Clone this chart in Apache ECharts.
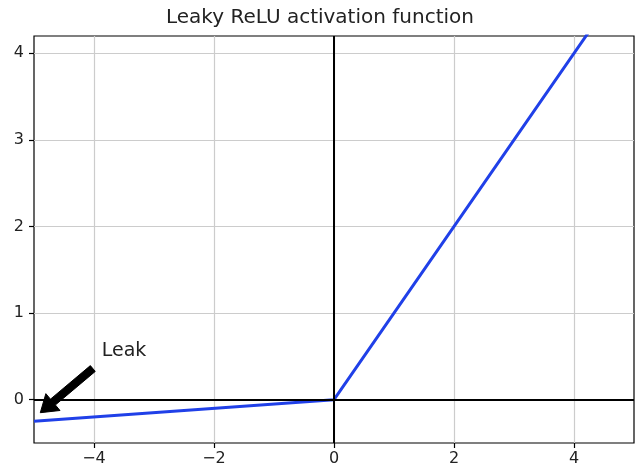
<!DOCTYPE html>
<html><head><meta charset="utf-8">
<script src="https://cdn.jsdelivr.net/npm/echarts@6/dist/echarts.min.js"></script>
<style>html,body{margin:0;padding:0;background:#fff}#c{width:640px;height:474px}</style>
</head><body><div id="c"></div>
<script>
// ---- data ----
const zValues = [-5, 0, 5];
const leakyValues = [-0.25, 0, 5];
const xTicks = [-4, -2, 0, 2, 4];
const yTicks = [0, 1, 2, 3, 4];
const xRange = [-5, 5];
const yRange = [-0.5, 4.2];
const titleText = 'Leaky ReLU activation function';
const annotText = 'Leak';
const annotTextAt = [-3.5, 0.5];
const arrowFrom = [-4.02, 0.36];
const arrowTo = [-4.895, -0.15];

const FONT = 'DejaVu Sans';
const fmt = v => String(v).replace('-', '\u2212');

const chart = echarts.init(document.getElementById('c'), null, {renderer: 'canvas'});

function axisCommon(ticks) {
  return {
    type: 'value',
    splitNumber: 5,
    axisLine: {show: false, onZero: false},
    axisTick: {show: true, customValues: ticks, length: 5, inside: false, lineStyle: {color: '#000', width: 1.2}},
    axisLabel: {customValues: ticks, formatter: fmt, color: '#222', fontSize: 16, fontFamily: FONT},
    splitLine: {show: true, lineStyle: {color: '#cccccc', width: 1.2}}
  };
}

const xAxis = axisCommon(xTicks);
xAxis.min = xRange[0]; xAxis.max = xRange[1];
xAxis.axisLabel.margin = 8;
const yAxis = axisCommon(yTicks);
yAxis.min = yRange[0]; yAxis.max = yRange[1];
yAxis.axisLabel.margin = 10;

chart.setOption({
  animation: false,
  backgroundColor: '#fff',
  title: {
    text: titleText,
    left: 'center',
    top: 8,
    padding: [0, 0, 0, 27],
    textStyle: {fontFamily: FONT, fontSize: 20, fontWeight: 'normal', color: '#222'}
  },
  grid: {left: 34, right: 6, top: 36, bottom: 31, containLabel: false, show: true, borderColor: '#000', borderWidth: 1.2, backgroundColor: 'transparent'},
  xAxis: xAxis,
  yAxis: yAxis,
  series: [
    {
      type: 'line',
      data: zValues.map((z, i) => [z, leakyValues[i]]),
      showSymbol: false,
      clip: true,
      lineStyle: {color: '#2040e8', width: 3},
      z: 2
    },
    {
      type: 'line',
      data: [],
      z: 3,
      markLine: {
        silent: true,
        symbol: ['none', 'none'],
        label: {show: false},
        lineStyle: {color: '#000', width: 2, type: 'solid'},
        emphasis: {disabled: true},
        data: [{yAxis: 0}, {xAxis: 0}]
      }
    }
  ]
});

// annotation: text + arrow positioned via the grid's data->pixel mapping
const p0 = chart.convertToPixel({gridIndex: 0}, arrowFrom);
const p1 = chart.convertToPixel({gridIndex: 0}, arrowTo);
const tp = chart.convertToPixel({gridIndex: 0}, annotTextAt);
const dx = p1[0] - p0[0], dy = p1[1] - p0[1];
const L = Math.hypot(dx, dy);
const ux = dx / L, uy = dy / L, nx = -uy, ny = ux;
const sw = 3.8, hw = 11, hl = 16.5;
const bx = p1[0] - ux * hl, by = p1[1] - uy * hl;
const pts = [
  [p0[0] + nx * sw, p0[1] + ny * sw],
  [bx + nx * sw, by + ny * sw],
  [bx + nx * hw, by + ny * hw],
  [p1[0], p1[1]],
  [bx - nx * hw, by - ny * hw],
  [bx - nx * sw, by - ny * sw],
  [p0[0] - nx * sw, p0[1] - ny * sw]
];

chart.setOption({
  graphic: [
    {type: 'polygon', z: 10, shape: {points: pts}, style: {fill: '#000', stroke: '#000', lineWidth: 1}},
    {type: 'text', z: 10, x: tp[0], y: tp[1] + 4.5,
     style: {text: annotText, align: 'center', verticalAlign: 'bottom', font: '19px "DejaVu Sans"', fill: '#222'}}
  ]
});
</script>
</body></html>
